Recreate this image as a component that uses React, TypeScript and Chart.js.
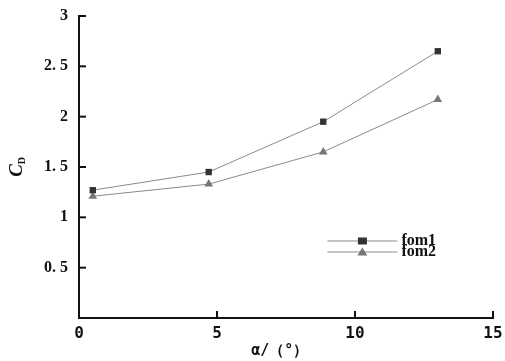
import React, { useEffect, useRef } from "react";
import { Chart, registerables } from "chart.js";

Chart.register(...registerables);

const alphaValues = [0.5, 4.7, 8.85, 13.0];
const fom1Values = [1.27, 1.45, 1.95, 2.65];
const fom2Values = [1.21, 1.33, 1.65, 2.17];
const seriesNames = ["fom1", "fom2"];
const xTicks = [0, 5, 10, 15];
const yTicks = [0.5, 1, 1.5, 2, 2.5, 3];
const xTitle = "α/（°）";
const yTitleMain = "C";
const yTitleSub = "D";

const fmtY = (v: number) => {
  const s = String(v);
  return s.includes(".") ? s.replace(".", ". ") : s;
};

const decorPlugin = {
  id: "decor",
  afterDraw(chart: any) {
    const ctx = chart.ctx as CanvasRenderingContext2D;
    const xs = chart.scales.x;
    const ys = chart.scales.y;
    const area = chart.chartArea;
    ctx.save();
    // inward ticks
    ctx.strokeStyle = "#111";
    ctx.lineWidth = 2;
    yTicks.forEach((v) => {
      const py = ys.getPixelForValue(v);
      ctx.beginPath();
      ctx.moveTo(area.left, py);
      ctx.lineTo(area.left + 7, py);
      ctx.stroke();
    });
    xTicks.forEach((v) => {
      if (v === 0) return;
      const px = xs.getPixelForValue(v);
      ctx.beginPath();
      ctx.moveTo(px, area.bottom);
      ctx.lineTo(px, area.bottom - 7);
      ctx.stroke();
    });

    // y title
    ctx.fillStyle = "#111";
    ctx.save();
    ctx.translate(17, (area.top + area.bottom) / 2);
    ctx.rotate(-Math.PI / 2);
    ctx.textBaseline = "middle";
    ctx.textAlign = "left";
    ctx.font = "italic bold 19px 'Liberation Serif'";
    const wC = ctx.measureText(yTitleMain).width;
    const total = wC + 7;
    ctx.fillText(yTitleMain, -total / 2, 0);
    ctx.font = "bold 10px 'Liberation Serif'";
    ctx.fillText(yTitleSub, -total / 2 + wC, 5);
    ctx.restore();

    // x title
    ctx.font = "bold 15px 'DejaVu Sans Mono'";
    ctx.textAlign = "center";
    ctx.textBaseline = "middle";
    ctx.fillText(xTitle, area.left + 0.485 * (area.right - area.left), 351);

    // legend
    const datasets = chart.data.datasets;
    const lx0 = area.left + 0.60 * (area.right - area.left);
    const lx1 = lx0 + 70;
    const ly0 = area.top + 0.745 * (area.bottom - area.top);
    datasets.forEach((ds: any, i: number) => {
      const y = ly0 + i * 11;
      ctx.strokeStyle = ds.borderColor;
      ctx.lineWidth = 1;
      ctx.beginPath();
      ctx.moveTo(lx0, y);
      ctx.lineTo(lx1, y);
      ctx.stroke();
      const mx = (lx0 + lx1) / 2;
      ctx.fillStyle = ds.pointBackgroundColor;
      if (ds.pointStyle === "rect") {
        ctx.fillRect(mx - 4.5, y - 3.5, 9, 7);
      } else {
        ctx.beginPath();
        ctx.moveTo(mx, y - 4.5);
        ctx.lineTo(mx + 5, y + 3.5);
        ctx.lineTo(mx - 5, y + 3.5);
        ctx.closePath();
        ctx.fill();
      }
      ctx.fillStyle = "#111";
      ctx.font = "bold 16px 'Liberation Serif'";
      ctx.textAlign = "left";
      ctx.textBaseline = "middle";
      ctx.fillText(ds.label, lx1 + 4, y);
    });
    ctx.restore();
  },
};

export default function App() {
  const ref = useRef<HTMLCanvasElement | null>(null);
  useEffect(() => {
    if (!ref.current) return;
    const chart = new Chart(ref.current, {
      type: "line",
      data: {
        datasets: [
          {
            label: seriesNames[0],
            data: alphaValues.map((x, i) => ({ x, y: fom1Values[i] })),
            borderColor: "#8a8a8a",
            borderWidth: 1,
            pointStyle: "rect",
            pointRadius: 4.5,
            pointBackgroundColor: "#333333",
            pointBorderColor: "#333333",
            pointBorderWidth: 0,
          },
          {
            label: seriesNames[1],
            data: alphaValues.map((x, i) => ({ x, y: fom2Values[i] })),
            borderColor: "#8a8a8a",
            borderWidth: 1,
            pointStyle: "triangle",
            pointRadius: 5,
            pointBackgroundColor: "#777777",
            pointBorderColor: "#777777",
            pointBorderWidth: 0,
          },
        ],
      },
      options: {
        animation: false,
        responsive: false,
        devicePixelRatio: 1,
        layout: { padding: { left: 0, top: 16, right: 12, bottom: 0 } },
        plugins: { legend: { display: false }, tooltip: { enabled: false } },
        scales: {
          x: {
            type: "linear",
            min: 0,
            max: 15,
            afterFit: (s: any) => {
              s.height = 43;
              s.paddingRight = 0;
              s.paddingLeft = 0;
            },
            afterBuildTicks: (s: any) => {
              s.ticks = xTicks.map((v) => ({ value: v }));
            },
            grid: { display: false, drawTicks: false },
            border: { display: true, color: "#111", width: 2 },
            ticks: {
              padding: 6,
              color: "#111",
              font: { family: "'DejaVu Sans Mono'", size: 16, weight: "bold" },
              maxRotation: 0,
              callback: (v: any) => String(v),
            },
          },
          y: {
            type: "linear",
            min: 0,
            max: 3,
            afterFit: (s: any) => {
              s.width = 79;
              s.paddingTop = 0;
              s.paddingBottom = 0;
            },
            afterBuildTicks: (s: any) => {
              s.ticks = yTicks.map((v) => ({ value: v }));
            },
            grid: { display: false, drawTicks: false },
            border: { display: true, color: "#111", width: 2 },
            ticks: {
              padding: 11,
              color: "#111",
              font: { family: "'Liberation Serif'", size: 16, weight: "bold" },
              callback: (v: any) => fmtY(Number(v)),
            },
          },
        },
      },
      plugins: [decorPlugin],
    } as any);
    return () => chart.destroy();
  }, []);
  return (
    <div style={{ position: "absolute", left: 0, top: 0, width: 505, height: 361, background: "#fff" }}>
      <canvas ref={ref} width={505} height={361} style={{ display: "block" }} />
    </div>
  );
}
